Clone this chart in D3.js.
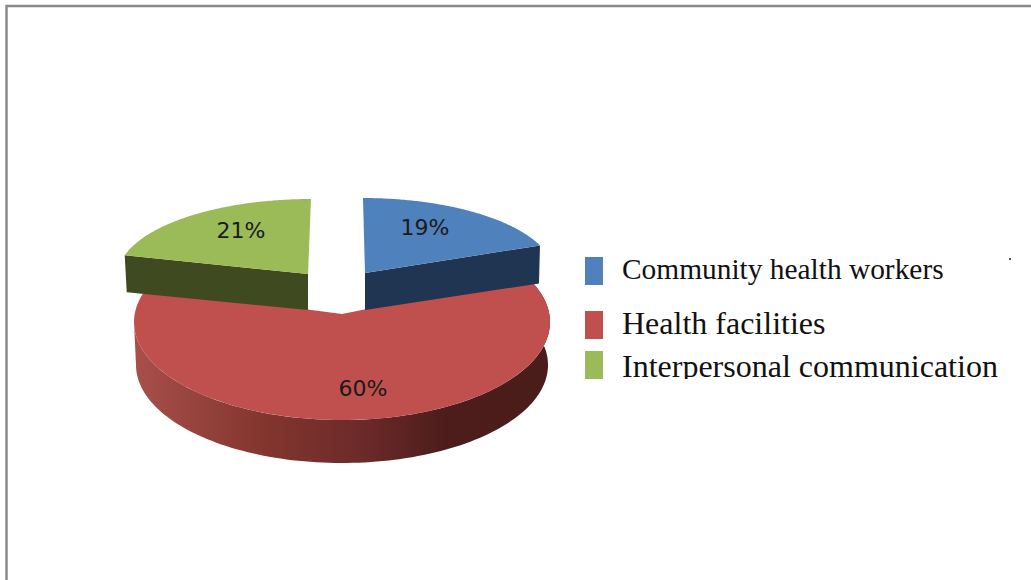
<!DOCTYPE html>
<html>
<head>
<meta charset="utf-8">
<script src="https://cdn.jsdelivr.net/npm/d3@7"></script>
<style>
html,body{margin:0;padding:0;background:#fff;overflow:hidden}
svg{display:block}
</style>
</head>
<body>
<svg id="chart" width="1031" height="580"></svg>
<script>
// Share of information sources, in percent
const categories = ["Community health workers", "Health facilities", "Interpersonal communication"];
const shares = [19, 60, 21];
const topColors = ["#4f81bd", "#c0504d", "#9bbb59"];
const sideColors = ["#1f3552", "#4f1f1d", "#3f4a20"];
const legendFontSizes = [29.4, 32, 32];

const svg = d3.select("#chart");
const defs = svg.append("defs");

// Rim shading of the large slice, light on the left and dark on the right
const rimGradient = defs.append("linearGradient")
  .attr("id", "rim").attr("gradientUnits", "userSpaceOnUse")
  .attr("x1", 135).attr("x2", 550).attr("y1", 0).attr("y2", 0);
[[0, "#a84f4b"], [0.3, "#84362f"], [0.55, "#6b2a29"], [0.75, "#4c1d1b"], [1, "#4a1c1a"]]
  .forEach(([o, c]) => rimGradient.append("stop").attr("offset", o).attr("stop-color", c));

defs.append("clipPath").attr("id", "legendClip")
  .append("rect").attr("x", 570).attr("y", 240).attr("width", 461).attr("height", 139);

// Page frame along the top and left
svg.append("path").attr("d", "M6.5,580V6H1031").attr("fill", "none")
  .attr("stroke", "#8a8a8a").attr("stroke-width", 2.5);

const pie = d3.pie().sort(null).value(d => d)(shares);

// Exploded slices use a smaller ellipse with a slight lean; the large slice stays central
const geometry = [
  {cx: 365, cy: 273, rx: 189, ry: 75, depth: 37, lean: 0.027},
  {cx: 342, cy: 322, rx: 208, ry: 98, depth: 43, lean: 0, bottomRx: 206, apexY: 314},
  {cx: 308, cy: 274, rx: 190, ry: 75, depth: 36, lean: -0.04}
];

const project = (g, a, r = 1) => [
  g.cx + r * g.rx * Math.sin(a) - g.lean * r * g.ry * Math.cos(a),
  g.cy - r * g.ry * Math.cos(a)
];
const line = d3.line();
const sweep = (a0, a1) => d3.range(0, 121).map(i => a0 + (a1 - a0) * i / 120);

// Slices are painted large one first so the exploded pair overlaps it
[1, 0, 2].forEach(i => {
  const g = geometry[i], s = pie[i];
  const group = svg.append("g");
  // The large slice tucks slightly under its exploded neighbours
  const tuck = i === 1 ? 0.1 : 0;

  if (i === 1) {
    // Outer wall of the large slice, front half only
    const upper = sweep(Math.max(s.startAngle, Math.PI / 2) - 0.4, Math.min(s.endAngle, 1.5 * Math.PI));
    const lower = upper.slice().reverse().map(a => {
      const p = project({...g, rx: g.bottomRx}, a);
      return [p[0], p[1] + g.depth];
    });
    group.append("path")
      .attr("d", line(upper.map(a => project(g, a)).concat(lower)) + "Z")
      .attr("fill", "url(#rim)");
  } else {
    // Cut faces toward the gap between the slices
    const edge = i === 0 ? s.endAngle : s.startAngle;
    const outer = project(g, edge), apex = project(g, 0, 0);
    group.append("path")
      .attr("d", line([apex, outer, [outer[0] + (i === 2 ? 2 : -1), outer[1] + g.depth + 1], [apex[0], apex[1] + g.depth]]) + "Z")
      .attr("fill", sideColors[i]);
  }

  // Top face
  const rimPoints = sweep(s.startAngle - tuck, s.endAngle + tuck).map(a => project(g, a));
  const apexPoint = [g.cx, g.apexY === undefined ? g.cy : g.apexY];
  group.append("path")
    .attr("d", line([apexPoint, ...rimPoints]) + "Z")
    .attr("fill", topColors[i]);
});

// Value labels on the top faces
const labelAnchors = [[425, 235], [363, 396], [241, 238]];
svg.append("g").selectAll("text").data(shares).join("text")
  .attr("x", (d, i) => labelAnchors[i][0])
  .attr("y", (d, i) => labelAnchors[i][1])
  .attr("text-anchor", "middle")
  .attr("font-family", "'DejaVu Sans', sans-serif")
  .attr("font-size", 22)
  .attr("fill", "#1a1a1a")
  .text(d => d + "%");

// Legend
const legendSwatchY = [257, 311, 351];
const legendBaseline = [279, 334, 377];
const legend = svg.append("g").attr("clip-path", "url(#legendClip)");
legend.selectAll("rect").data(categories).join("rect")
  .attr("x", 585).attr("y", (d, i) => legendSwatchY[i])
  .attr("width", 18).attr("height", 28)
  .attr("fill", (d, i) => topColors[i]);
legend.selectAll("text").data(categories).join("text")
  .attr("x", 622).attr("y", (d, i) => legendBaseline[i])
  .attr("font-family", "'Liberation Serif', serif")
  .attr("font-size", (d, i) => legendFontSizes[i])
  .attr("fill", "#111")
  .text(d => d);

// Small speck to the right of the legend
svg.append("rect").attr("x", 1009).attr("y", 258).attr("width", 2).attr("height", 2).attr("fill", "#555");
</script>
</body>
</html>
